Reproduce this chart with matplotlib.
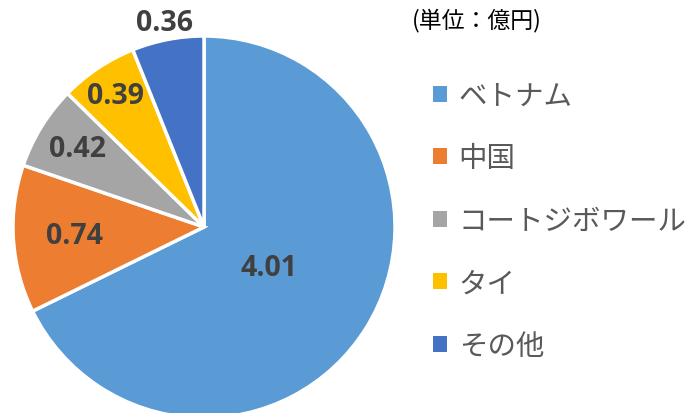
import matplotlib
matplotlib.use('Agg')
import numpy as np
import matplotlib.pyplot as plt
from matplotlib.patches import Patch

plt.rcParams['font.family'] = ['Noto Sans CJK JP', 'DejaVu Sans']

categories = ['ベトナム', '中国', 'コートジボワール', 'タイ', 'その他']
values = [4.01, 0.74, 0.42, 0.39, 0.36]
colors = ['#5B9BD5', '#ED7D31', '#A5A5A5', '#FFC000', '#4472C4']
label_dist = [0.40, 0.68, 0.78, 0.83, 1.09]
unit_text = '(単位：億円)'

W, H = 687, 414
fig = plt.figure(figsize=(W / 100, H / 100), dpi=100)
# pie centre (204, 228) px, radius 191 px
cx, cy, r = 204, 228, 191
ax = fig.add_axes([(cx - r) / W, (H - cy - r) / H, 2 * r / W, 2 * r / H])
ax.axis('off')

wedges, _ = ax.pie(values, colors=colors, startangle=90, counterclock=False, radius=1,
                   wedgeprops=dict(edgecolor='white', linewidth=2.5))
ax.set_xlim(-1, 1)
ax.set_ylim(-1, 1)
ax.set_aspect('equal')

for w, v, d in zip(wedges, values, label_dist):
    ang = np.deg2rad((w.theta1 + w.theta2) / 2)
    ax.text(d * np.cos(ang), d * np.sin(ang), '{:.2f}'.format(v), ha='center', va='center',
            fontsize=20.5, fontweight='bold', color='#404040', family=['Open Sans', 'DejaVu Sans'],
            clip_on=False)

handles = [Patch(facecolor=c, edgecolor='none') for c in colors]
fig.legend(handles, categories, loc='upper left', bbox_to_anchor=(433 / W, 1 - 82 / H),
           frameon=False, fontsize=20.5, labelcolor='#595959', handlelength=0.5, handleheight=0.5,
           handletextpad=0.4, labelspacing=1.14, borderaxespad=0, borderpad=0)

fig.text(412 / W, 1 - 20 / H, unit_text, ha='left', va='center', fontsize=16.5, color='black')

fig.savefig('out.png', dpi=100)
